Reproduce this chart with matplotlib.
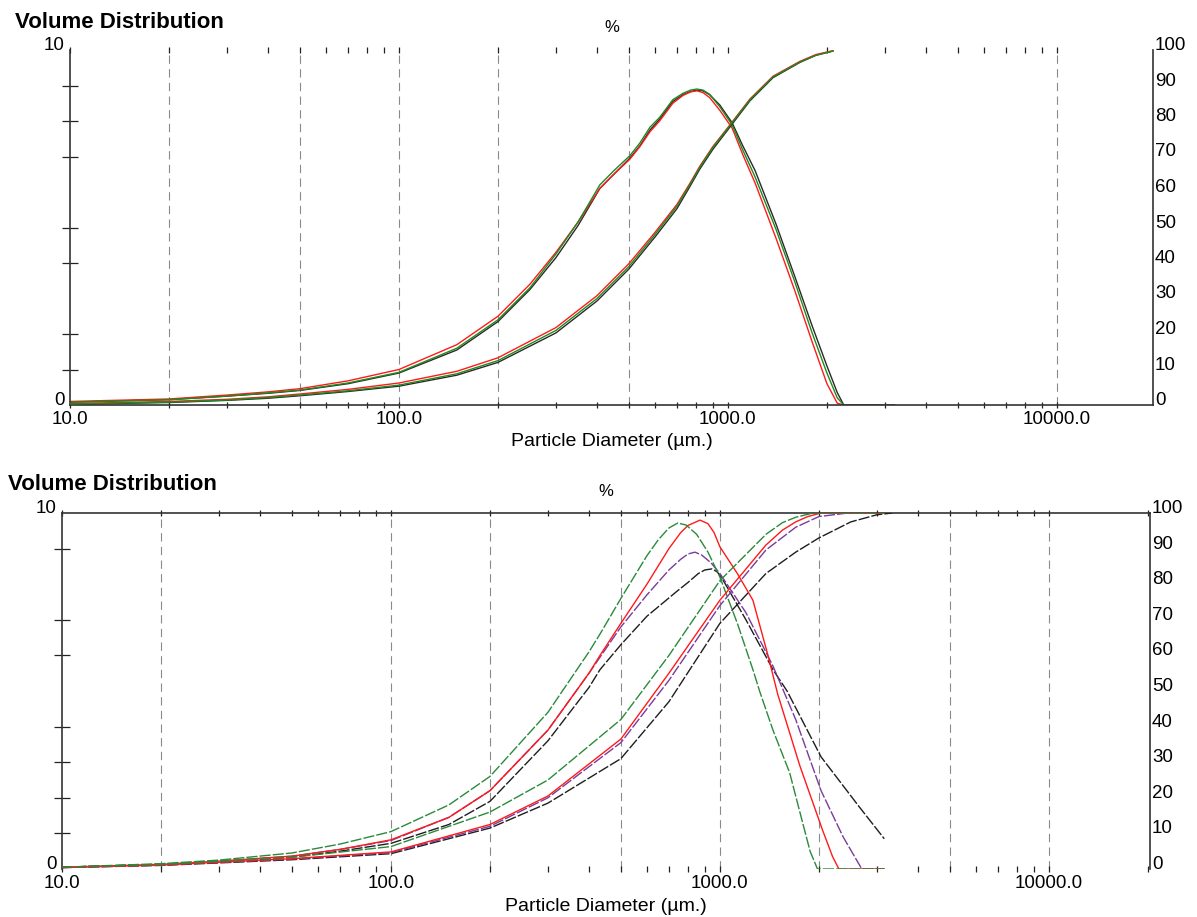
import matplotlib
matplotlib.use("Agg")
import matplotlib.pyplot as plt
from matplotlib.ticker import FixedLocator, FixedFormatter, NullFormatter, LogLocator

plt.rcParams['font.family'] = ['Liberation Sans', 'DejaVu Sans']

# ---------------- top panel data (3 runs, nearly identical) ----------------
top_freq_x = [10, 20, 30, 40, 50, 70, 100, 150, 200, 250, 300, 350, 408, 450, 503, 540, 580, 620,
              680, 730, 770, 805, 840, 880, 945, 1030, 1110, 1210, 1400, 1600, 1800, 2000, 2150, 2250, 3200]
top_freq_black = [0.08, 0.15, 0.25, 0.33, 0.41, 0.6, 0.9, 1.55, 2.35, 3.25, 4.15, 5.05, 6.1, 6.5, 6.95, 7.3,
                  7.75, 8.05, 8.55, 8.74, 8.83, 8.87, 8.85, 8.74, 8.45, 7.95, 7.3, 6.6, 5.1, 3.6, 2.25, 1.1,
                  0.35, 0.0, 0.0]
top_freq_green = [0.08, 0.15, 0.25, 0.34, 0.42, 0.62, 0.92, 1.6, 2.4, 3.3, 4.25, 5.15, 6.2, 6.6, 7.02, 7.38,
                  7.83, 8.1, 8.6, 8.78, 8.87, 8.9, 8.87, 8.75, 8.4, 7.89, 7.18, 6.42, 4.95, 3.45, 2.05, 0.9,
                  0.2, 0.0, 0.0]
top_freq_red = [0.1, 0.17, 0.28, 0.37, 0.46, 0.68, 1.0, 1.7, 2.5, 3.4, 4.3, 5.15, 6.1, 6.5, 6.92, 7.28,
                7.7, 8.0, 8.5, 8.72, 8.82, 8.85, 8.8, 8.66, 8.3, 7.8, 7.05, 6.25, 4.7, 3.2, 1.8, 0.6,
                0.05, 0.0, 0.0]

top_cum_x = [10, 20, 30, 40, 50, 70, 100, 150, 200, 300, 400, 500, 600, 700, 766, 822, 900,
             1020, 1167, 1371, 1655, 1850, 2085]
top_cum_black = [0.2, 0.7, 1.3, 1.9, 2.6, 3.8, 5.3, 8.4, 12.0, 20.3, 29.3, 38.3, 47.3, 55.3, 61.5,
                 66.5, 72.0, 78.6, 85.7, 92.2, 96.5, 98.5, 99.7]
top_cum_green = [0.3, 0.8, 1.4, 2.1, 2.8, 4.0, 5.6, 8.8, 12.5, 21.0, 30.0, 39.0, 48.0, 56.0, 62.0,
                 67.0, 72.5, 79.0, 86.0, 92.4, 96.6, 98.5, 99.7]
top_cum_red = [0.4, 1.0, 1.6, 2.3, 3.1, 4.4, 6.2, 9.5, 13.3, 21.8, 30.8, 39.8, 48.6, 56.5, 62.4,
               67.3, 72.8, 79.2, 86.2, 92.6, 96.8, 98.7, 99.8]

top_grid = [20, 50, 100, 200, 500, 10000]

# ---------------- bottom panel data (4 runs) ----------------
green_fx = [10, 20, 30, 50, 70, 100, 150, 200, 300, 400, 432, 500, 600, 650, 700, 745, 790, 850, 920,
            1000, 1130, 1260, 1320, 1450, 1630, 1750, 1880, 1980, 3160]
green_f = [0.05, 0.15, 0.25, 0.45, 0.7, 1.05, 1.8, 2.6, 4.4, 6.1, 6.6, 7.6, 8.8, 9.25, 9.58, 9.72, 9.66,
           9.4, 8.9, 8.2, 6.9, 5.6, 5.0, 3.9, 2.7, 1.6, 0.5, 0.0, 0.0]
red_fx = [10, 20, 30, 50, 70, 100, 150, 200, 300, 400, 432, 500, 600, 700, 760, 800, 870, 920, 960,
          1000, 1130, 1260, 1400, 1500, 1750, 2050, 2200, 2300, 3160]
red_f = [0.05, 0.13, 0.22, 0.36, 0.55, 0.82, 1.45, 2.2, 3.9, 5.5, 6.0, 6.9, 8.0, 9.0, 9.45, 9.65, 9.8,
         9.7, 9.45, 9.05, 8.3, 7.55, 6.0, 4.9, 2.9, 1.1, 0.35, 0.0, 0.0]
purple_fx = [10, 20, 30, 50, 70, 100, 150, 200, 300, 400, 432, 500, 600, 700, 760, 800, 840, 880, 940,
             1000, 1200, 1450, 1700, 2030, 2370, 2700, 3160]
purple_f = [0.05, 0.13, 0.22, 0.36, 0.55, 0.8, 1.45, 2.2, 3.9, 5.5, 5.95, 6.8, 7.7, 8.4, 8.7, 8.85, 8.9,
            8.82, 8.6, 8.3, 7.2, 5.7, 4.2, 2.2, 0.9, 0.0, 0.0]
black_fx = [10, 20, 30, 50, 70, 100, 150, 200, 300, 400, 432, 500, 600, 740, 800, 860, 900, 946, 980,
            1010, 1200, 1450, 1600, 2030, 2650, 3160]
black_f = [0.05, 0.13, 0.2, 0.33, 0.5, 0.72, 1.25, 1.9, 3.6, 5.1, 5.6, 6.3, 7.1, 7.8, 8.05, 8.3, 8.4,
           8.43, 8.35, 8.2, 7.0, 5.6, 5.0, 3.15, 1.75, 0.85]

green_cx = [10, 20, 50, 100, 200, 300, 500, 700, 1000, 1380, 1550, 1700, 1920, 3160]
green_c = [0.5, 1.3, 3.3, 6.3, 16, 25, 42, 60, 81, 94, 97.3, 98.8, 100, 100]
red_cx = [10, 20, 50, 100, 200, 300, 500, 700, 1000, 1380, 1550, 1700, 1850, 2030, 3160]
red_c = [0.4, 1.1, 2.9, 4.8, 12.5, 20.5, 36.5, 55, 75.5, 91, 95.2, 97.5, 99, 100, 100]
purple_cx = [10, 20, 50, 100, 200, 300, 500, 700, 1000, 1380, 1700, 2000, 2450, 3160]
purple_c = [0.4, 1.1, 2.8, 4.6, 12, 20, 35.5, 53, 74, 89.6, 96, 99, 100, 100]
black_cx = [10, 20, 50, 100, 200, 300, 500, 700, 1000, 1380, 1700, 2000, 2500, 3000, 3340]
black_c = [0.4, 1.0, 2.6, 4.3, 11.5, 18.5, 31, 47, 69, 83, 89, 93, 97.5, 99.5, 100]

bottom_grid = [20, 100, 200, 500, 1000, 2000, 5000, 10000]

x_major = [10, 100, 1000, 10000]
x_major_labels = ['10.0', '100.0', '1000.0', '10000.0']
right_ticks = list(range(0, 101, 10))

W, H = 1197, 917
fig = plt.figure(figsize=(W / 100, H / 100), dpi=100)


def setup(ax, ax2, xmax, grid, left_minor, right_minor, top_spine, bottom_spine):
    ax.set_xscale('log')
    ax.set_xlim(10, xmax)
    ax.set_ylim(0, 10)
    ax2.set_ylim(0, 100)
    ax.xaxis.set_major_locator(FixedLocator(x_major))
    ax.xaxis.set_major_formatter(FixedFormatter(x_major_labels))
    ax.xaxis.set_minor_locator(LogLocator(base=10, subs=range(2, 10)))
    ax.xaxis.set_minor_formatter(NullFormatter())
    ax.tick_params(axis='x', which='both', direction='inout', length=5, width=0.9,
                   top=True, bottom=True, labelsize=13.5, pad=2, color='#222222')

    ax.yaxis.set_major_locator(FixedLocator([0, 10]))
    ax.yaxis.set_major_formatter(FixedFormatter(['0', '10']))
    ax.yaxis.set_minor_locator(FixedLocator(left_minor))
    ax.yaxis.set_minor_formatter(NullFormatter())
    ax.tick_params(axis='y', which='major', length=0, labelsize=13.5, pad=4)
    ax.tick_params(axis='y', which='minor', direction='inout', length=11.5, width=0.9, color='#222222')
    plt.setp(ax.get_yticklabels(), va='baseline')

    ax2.yaxis.set_major_locator(FixedLocator(right_ticks))
    ax2.yaxis.set_major_formatter(FixedFormatter([str(v) for v in right_ticks]))
    ax2.yaxis.set_minor_locator(FixedLocator(right_minor))
    ax2.yaxis.set_minor_formatter(NullFormatter())
    ax2.tick_params(axis='y', which='major', length=0, labelsize=13.5, pad=1.5)
    ax2.tick_params(axis='y', which='minor', direction='in', length=7, width=0.9, color='#222222')
    plt.setp(ax2.get_yticklabels(), va='baseline')

    for s in ['left', 'bottom', 'top', 'right']:
        ax2.spines[s].set_visible(False)
    ax2.spines['right'].set_visible(True)
    ax.spines['right'].set_visible(False)
    ax.spines['top'].set_visible(top_spine)
    ax.spines['bottom'].set_visible(bottom_spine)
    for sp in [ax.spines['left'], ax.spines['top'], ax.spines['bottom'], ax2.spines['right']]:
        sp.set_linewidth(1.2)
        sp.set_color('#333333')

    for g in grid:
        ax.axvline(g, color='#8a8a8a', lw=0.8, ls=(0, (7.5, 4.8)), zorder=0)


# ---------- top panel ----------
ax = fig.add_axes([70 / W, 1 - 405 / H, 1083 / W, 355 / H])
ax2 = ax.twinx()
setup(ax, ax2, 19600, top_grid, [1, 2, 4, 5, 7, 8, 9], [10, 20, 40, 50, 70, 80, 90], False, True)
ax.plot(top_freq_x, top_freq_black, color='#2a2a2a', lw=1.0)
ax.plot(top_freq_x, top_freq_red, color='#ff1a1a', lw=1.0)
ax.plot(top_freq_x, top_freq_green, color='#1f8a1f', lw=1.0)
ax2.plot(top_cum_x, top_cum_black, color='#2a2a2a', lw=1.0)
ax2.plot(top_cum_x, top_cum_red, color='#ff1a1a', lw=1.0)
ax2.plot(top_cum_x, top_cum_green, color='#1f8a1f', lw=1.0)

fig.text(15 / W, 1 - 28 / H, 'Volume Distribution', fontsize=16, fontweight='bold', va='baseline')
fig.text(612 / W, 1 - 32 / H, '%', fontsize=12, ha='center', va='baseline')
fig.text(612 / W, 1 - 446 / H, 'Particle Diameter (µm.)', fontsize=14, ha='center', va='baseline')

# ---------- bottom panel ----------
bx = fig.add_axes([62 / W, 1 - 869 / H, 1088 / W, 356 / H])
bx2 = bx.twinx()
setup(bx, bx2, 20300, bottom_grid, [1, 2, 3, 4, 6, 7, 9], [10, 20, 30, 40, 60, 70, 90], True, False)
dash = (0, (8, 1.5))
bx.plot(black_fx, black_f, color='#1e1e1e', lw=1.0, ls=dash)
bx.plot(purple_fx, purple_f, color='#7a3b9c', lw=1.0, ls=dash)
bx.plot(red_fx, red_f, color='#ff1a1a', lw=1.0)
bx.plot(green_fx, green_f, color='#2a8a3a', lw=1.0, ls=dash)
bx2.plot(black_cx, black_c, color='#1e1e1e', lw=1.0, ls=dash)
bx2.plot(purple_cx, purple_c, color='#7a3b9c', lw=1.0, ls=dash)
bx2.plot(red_cx, red_c, color='#ff1a1a', lw=1.0)
bx2.plot(green_cx, green_c, color='#2a8a3a', lw=1.0, ls=dash)

fig.text(8 / W, 1 - 490 / H, 'Volume Distribution', fontsize=16, fontweight='bold', va='baseline')
fig.text(606 / W, 1 - 496 / H, '%', fontsize=12, ha='center', va='baseline')
fig.text(606 / W, 1 - 911 / H, 'Particle Diameter (µm.)', fontsize=14, ha='center', va='baseline')

fig.savefig('out.png', dpi=100)
